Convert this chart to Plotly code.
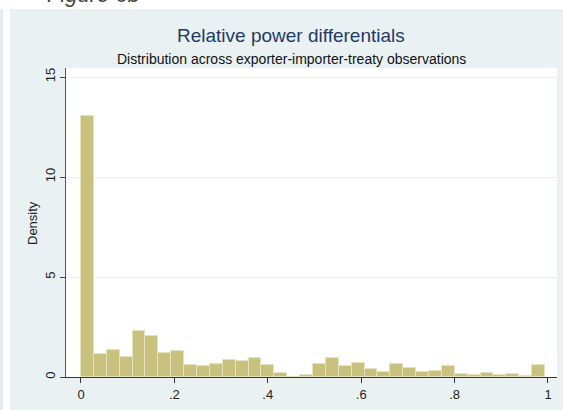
import plotly.graph_objects as go

# Histogram of relative power differentials (density scale), 36 equal-width bins from 0
bin_start = 0.0
bin_width = 0.0276
density = [
    13.05, 1.17, 1.33, 0.98, 2.28, 2.07, 1.20, 1.28, 0.62, 0.55,
    0.63, 0.85, 0.80, 0.95, 0.60, 0.18, 0.02, 0.10, 0.63, 0.95,
    0.55, 0.70, 0.38, 0.25, 0.65, 0.43, 0.27, 0.30, 0.55, 0.17,
    0.08, 0.20, 0.08, 0.17, 0.04, 0.62,
]

x_tickvals = [0, 0.2, 0.4, 0.6, 0.8, 1.0]
x_ticktext = ["0", ".2", ".4", ".6", ".8", "1"]
y_tickvals = [0, 5, 10, 15]
y_ticktext = ["0", "5", "10", "15"]

title_text = "Relative power differentials"
subtitle_text = "Distribution across exporter-importer-treaty observations"
ytitle_text = "Density"
caption_text = "Figure 6b"

centers = [bin_start + (i + 0.5) * bin_width for i in range(len(density))]

W, H = 563, 410
ML, MR, MT, MB = 66, 6, 68, 33
PW = W - ML - MR
PH = H - MT - MB


def px_x(p):
    return (p - ML) / PW


def px_y(p):
    return (H - MB - p) / PH


FONT = "Liberation Sans, Arial, sans-serif"
BG = "#e9f1f3"

fig = go.Figure()
fig.add_trace(go.Bar(
    x=centers,
    y=density,
    width=bin_width,
    marker=dict(color="#c9c17e", line=dict(color="#e6e2bd", width=1)),
    hoverinfo="x+y",
))

fig.update_layout(
    width=W,
    height=H,
    autosize=False,
    margin=dict(l=ML, r=MR, t=MT, b=MB, pad=0),
    paper_bgcolor=BG,
    plot_bgcolor="white",
    showlegend=False,
    bargap=0,
    font=dict(family=FONT, size=13, color="#222"),
    xaxis=dict(
        range=[-0.0321, 1.0193],
        tickvals=x_tickvals,
        ticktext=x_ticktext,
        ticks="outside",
        ticklen=5,
        tickcolor="#333",
        showline=True,
        linecolor="#333",
        linewidth=1,
        showgrid=False,
        zeroline=False,
        tickfont=dict(size=13, color="#222"),
    ),
    yaxis=dict(
        range=[0, 15.45],
        tickvals=y_tickvals,
        ticktext=y_ticktext,
        tickangle=-90,
        ticks="outside",
        ticklen=5,
        tickcolor="#444",
        showline=True,
        linecolor="#555",
        linewidth=1,
        showgrid=True,
        gridcolor="#e6eff1",
        gridwidth=1,
        zeroline=False,
        tickfont=dict(size=13, color="#222"),
    ),
)

# page strips around the graph region
fig.add_shape(type="rect", xref="paper", yref="paper",
              x0=px_x(0), x1=px_x(10), y0=px_y(H), y1=px_y(0),
              fillcolor="white", line=dict(width=0), layer="below")
fig.add_shape(type="rect", xref="paper", yref="paper",
              x0=px_x(0), x1=px_x(3), y0=px_y(H), y1=px_y(0),
              fillcolor="#e4ecef", line=dict(width=0), layer="below")
fig.add_shape(type="rect", xref="paper", yref="paper",
              x0=px_x(0), x1=px_x(W), y0=px_y(9), y1=px_y(0),
              fillcolor="white", line=dict(width=0), layer="below")

fig.add_annotation(text=caption_text, xref="paper", yref="paper",
                   x=px_x(45), y=px_y(9), xanchor="left", yanchor="bottom",
                   showarrow=False,
                   font=dict(family=FONT, size=22, color="#444", style="italic"))
fig.add_annotation(text=title_text, xref="paper", yref="paper",
                   x=px_x(291), y=px_y(35), xanchor="center", yanchor="middle",
                   showarrow=False,
                   font=dict(family=FONT, size=19, color="#1f3a66"))
fig.add_annotation(text=subtitle_text, xref="paper", yref="paper",
                   x=px_x(291), y=px_y(59), xanchor="center", yanchor="middle",
                   showarrow=False,
                   font=dict(family=FONT, size=14, color="#111"))
fig.add_annotation(text=ytitle_text, xref="paper", yref="paper",
                   x=px_x(33), y=px_y(223), xanchor="center", yanchor="middle",
                   textangle=-90, showarrow=False,
                   font=dict(family=FONT, size=13, color="#222"))

fig.write_html("out.html")
